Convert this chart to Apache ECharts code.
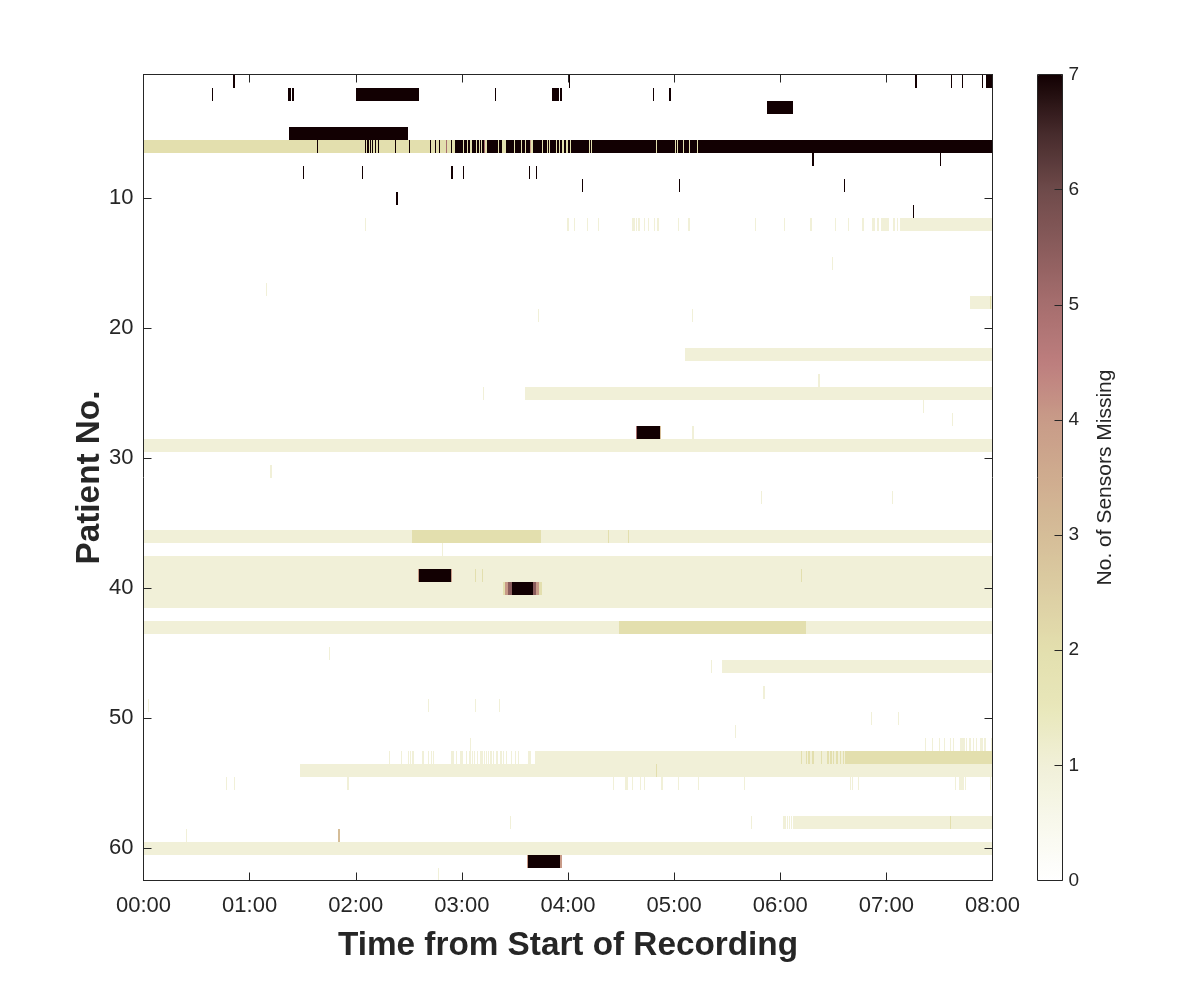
<!DOCTYPE html>
<html>
<head>
<meta charset="utf-8">
<script src="https://cdn.jsdelivr.net/npm/echarts@6/dist/echarts.min.js"></script>
<style>html,body{margin:0;padding:0;background:#fff}#c{width:1200px;height:990px}</style>
</head>
<body>
<div id="c"></div>
<script>
// Each entry: [patient number, start minute, end minute]
var oneMissing = [
  [12,125.4,126],[12,239.7,240.3],[12,243.2,243.7],[12,250.5,251.1],[12,256.7,257.3],[12,276,277.6],[12,278.2,278.8],[12,279.3,280.5],[12,282.7,283.3],[12,285,285.6],[12,288.4,289],[12,290.6,291.2],[12,302,302.5],[12,307.6,308.7],[12,345.5,346],[12,361.9,362.5],[12,377.1,377.7],[12,390.7,391.3],[12,398.1,398.6],[12,406.5,407.1],[12,411.6,413.3],[12,414.5,415.6],[12,416.7,421.3],[12,423.5,424.6],[12,425.8,426.4],[12,427.5,480],
  [15,389.5,390.1],[17,69.5,70.1],[18,467,480],[19,223.1,223.7],[19,310.3,310.9],[22,305.9,480],[24,381.6,382.2],[25,192,192.6],[25,215.9,480],[26,440.9,441.5],[27,457.3,457.9],[28,309.9,311],[29,0,480],[31,71.8,72.4],[33,349.3,349.9],[33,423.4,424],
  [36,0,480],[37,169,169.6],[38,0,480],[39,0,480],[40,0,480],[41,0,480],[43,0,480],[45,105,105.6],[46,321.1,321.6],[46,326.8,480],[48,350.5,351.1],
  [49,2.6,3.2],[49,160.9,161.5],[49,187.5,188.1],[49,201.1,201.7],[50,411.5,412.1],[50,426.8,427.4],[51,334.6,335.2],[52,184.7,185.3],
  [52,441.8,442.4],[52,445.8,446.4],[52,449.5,450.1],[52,452.8,453.4],[52,455.7,456.3],[52,457.9,458.5],[52,461.4,463.1],[52,463.6,464.2],[52,464.8,465.3],[52,466.5,467.6],[52,468.7,469.3],[52,470.4,471],[52,472.7,474.4],[52,475,476.1],[52,479,480],
  [53,139,139.6],[53,145.8,146.3],[53,149.7,150.3],[53,150.9,151.4],[53,152,153.1],[53,157.7,158.8],[53,161,161.6],[53,162.7,163.3],[53,163.9,164.4],[53,174,175.7],[53,176.9,177.4],[53,179.2,180.8],[53,182.5,183.1],[53,183.8,184.2],[53,184.8,185.3],[53,186,186.5],[53,187.1,187.6],[53,188.7,189.2],[53,190.4,192.1],[53,192.7,193.3],[53,193.9,194.4],[53,195,195.5],[53,196.1,197.2],[53,197.8,198.3],[53,199.5,200.6],[53,201.8,202.9],[53,203.4,204],[53,205.2,205.7],[53,207.5,208],[53,210.2,210.8],[53,211.9,212.4],[53,217.6,219.3],[53,221.2,480],
  [54,88.7,480],
  [55,46.8,47.4],[55,51.4,51.9],[55,115.2,116.4],[55,265.2,265.8],[55,272,274.2],[55,276,276.5],[55,280.5,281],[55,282.7,283.3],[55,292.3,293.5],[55,302,302.5],[55,313.3,313.8],[55,339.3,339.8],[55,399.2,399.8],[55,400.3,400.9],[55,403.7,404.3],[55,458.6,459.1],[55,460.8,463.7],[55,464.2,464.8],[55,478.4,479],
  [58,207.2,207.7],[58,343.2,343.8],[58,361.3,363],[58,363.6,364.1],[58,364.7,365.3],[58,365.8,366.4],[58,367,480],[59,24.2,24.8],[60,0,480],[62,166.6,167.2]
];
var twoMissing = [
  [6,0,480],[18,478.5,479],[36,152,224.9],[36,262.6,263.1],[36,273.7,274.2],[39,187.2,187.7],[39,191.2,191.7],[39,372,372.5],[40,203,204.4],[40,223.6,225.5],[43,268.6,374.3],
  [53,371.5,372.5],[53,374.3,374.9],[53,375.9,376.6],[53,377.7,378.8],[53,382.8,383.4],[53,386.2,387.3],[53,387.9,389],[53,389.6,390.3],[53,391.3,392.4],[53,393.5,394.1],[53,395.2,395.8],[53,396.4,480],
  [54,289.5,290],[58,455.7,456.3]
];
var threeMissing = [[59,110.2,111.3],[28,291.8,292.3]];
var fourMissing = [[6,218.7,219.3],[39,155.3,155.8],[39,173.9,174.6],[40,204.4,206.1],[40,221.7,223.6],[61,217,217.6],[61,235.3,236.4]];
var fiveMissing = [[6,171.3,171.8],[6,192.6,193.2],[28,278.4,279.1]];
var fiveHalfMissing = [[40,206.1,208.6],[40,220,221.7]];
var sevenMissing = [
  [1,50.8,51.9],[1,240.5,241.3],[1,436,437.1],[1,456.3,456.9],[1,462.5,463.6],[1,473.8,474.4],[1,476.1,480],
  [2,38.9,39.5],[2,81.9,83.4],[2,83.8,85.3],[2,120.3,155.8],[2,198.9,199.5],[2,231.1,234.7],[2,235.3,236.8],[2,287.8,288.4],[2,296.9,298],
  [3,352.3,367],[5,82.5,149.7],
  [6,98.2,98.7],[6,125,125.8],[6,126.3,127.3],[6,128.3,128.9],[6,129.4,130],[6,130.7,131.5],[6,132.8,133.4],[6,142.4,142.9],[6,150.3,150.9],[6,162.2,162.7],[6,164.8,165.4],[6,167.3,167.8],[6,174,174.6],[6,176.3,178.2],[6,178.6,180.9],[6,181.4,183.1],[6,183.7,184.8],[6,185.9,188.2],[6,188.7,189.9],[6,190.4,191],[6,191.5,192.6],[6,194.4,200.6],[6,201.2,202.9],[6,205.2,209.7],[6,210.2,213.6],[6,214.2,215.9],[6,216.5,218.7],[6,220.4,225.5],[6,226,228.3],[6,228.9,229.5],[6,230,233.4],[6,234,235.1],[6,235.7,236.8],[6,237.9,239],[6,239.8,240.9],[6,241.5,251.8],[6,252.4,253.1],[6,253.7,289.5],[6,290.1,300.4],[6,301,301.8],[6,302.3,305],[6,305.5,308.4],[6,309,312.7],[6,313.3,480],
  [7,377.7,378.8],[7,450.1,450.7],
  [8,90.4,91],[8,123.7,124.3],[8,174,175.1],[8,180.8,181.4],[8,218.2,218.7],[8,222.1,222.7],
  [9,247.7,248.2],[9,302.5,303.1],[9,395.8,396.4],[10,142.9,144],[11,434.8,435.4],
  [28,279.1,291.8],[39,155.8,173.9],[40,208.6,220],[61,217.6,235.3]
];
var patientTicks = [10,20,30,40,50,60];
var hourTicks = ['00:00','01:00','02:00','03:00','04:00','05:00','06:00','07:00','08:00'];
var colorbarColors = ['#ffffff','#f8f8ec','#f1f0d8','#e8e7ba','#e3dfae','#dccea3','#d5bd98','#cfac8f','#c89b88','#bd7e7e','#a66e6e','#8a5c5c','#6e4a4a','#452a2b','#120002'];

var segments = [];
function addLevel(list, level) {
  list.forEach(function (s) { segments.push([s[1], s[2], s[0], level]); });
}
addLevel(oneMissing, 1);
addLevel(twoMissing, 2);
addLevel(threeMissing, 3);
addLevel(fourMissing, 4);
addLevel(fiveMissing, 5);
addLevel(fiveHalfMissing, 5.5);
addLevel(sevenMissing, 7);

var ink = '#262626';
var fontFamily = '"Liberation Sans", Arial, sans-serif';
var tickLine = { color: ink, width: 1 };
var frameLine = { show: true, onZero: false, lineStyle: tickLine };

var chart = echarts.init(document.getElementById('c'), null, { renderer: 'canvas' });
chart.setOption({
  animation: false,
  backgroundColor: '#fff',
  grid: [
    { left: 143.5, top: 74.5, width: 849, height: 806, containLabel: false },
    { left: 1037.5, top: 74.5, width: 25, height: 806, show: true, backgroundColor: 'transparent', borderColor: ink, borderWidth: 1, z: 6 }
  ],
  visualMap: {
    type: 'continuous', seriesIndex: 0, dimension: 3, min: 0, max: 7,
    left: 1037.5, top: 74.5, itemWidth: 25, itemHeight: 806, padding: 0, text: null,
    calculable: false, hoverLink: false, realtime: false,
    inRange: { color: colorbarColors }
  },
  xAxis: [
    { type: 'value', gridIndex: 0, position: 'bottom', min: 0, max: 480, interval: 60, z: 5,
      name: 'Time from Start of Recording', nameLocation: 'middle', nameGap: 49, nameMoveOverlap: false,
      nameTextStyle: { fontFamily: fontFamily, fontSize: 33.3, fontWeight: 'bold', color: ink },
      splitLine: { show: false },
      axisLine: frameLine,
      axisTick: { show: true, inside: true, length: 8, lineStyle: tickLine },
      axisLabel: { show: true, margin: 14, fontFamily: fontFamily, fontSize: 22, color: ink, showMinLabel: true, showMaxLabel: true, hideOverlap: false,
        formatter: function (v) { return hourTicks[v / 60]; } } },
    { type: 'value', gridIndex: 0, position: 'top', min: 0, max: 480, interval: 60, z: 5,
      splitLine: { show: false },
      axisLine: frameLine,
      axisTick: { show: true, inside: true, length: 8, lineStyle: tickLine },
      axisLabel: { show: false } },
    { type: 'value', gridIndex: 1, min: 0, max: 1, show: false }
  ],
  yAxis: [
    { type: 'value', gridIndex: 0, position: 'left', inverse: true, min: 0.5, max: 62.5, z: 5,
      name: 'Patient No.', nameLocation: 'middle', nameGap: 37, nameRotate: 90, nameMoveOverlap: false,
      nameTextStyle: { fontFamily: fontFamily, fontSize: 33.3, fontWeight: 'bold', color: ink },
      splitLine: { show: false },
      axisLine: frameLine,
      axisTick: { show: true, inside: true, length: 8, lineStyle: tickLine, customValues: patientTicks },
      axisLabel: { show: true, margin: 10, padding: [5, 0, 0, 0], fontFamily: fontFamily, fontSize: 22, color: ink, customValues: patientTicks } },
    { type: 'value', gridIndex: 0, position: 'right', inverse: true, min: 0.5, max: 62.5, z: 5,
      splitLine: { show: false },
      axisLine: frameLine,
      axisTick: { show: true, inside: true, length: 8, lineStyle: tickLine, customValues: patientTicks },
      axisLabel: { show: false } },
    { type: 'value', gridIndex: 1, position: 'right', min: 0, max: 7, interval: 1, z: 7,
      name: 'No. of Sensors Missing', nameLocation: 'middle', nameGap: 32.5, nameRotate: 90, nameMoveOverlap: false,
      nameTextStyle: { fontFamily: fontFamily, fontSize: 21, color: ink },
      splitLine: { show: false },
      axisLine: { show: false, onZero: false },
      axisTick: { show: true, inside: true, length: 8, lineStyle: tickLine },
      axisLabel: { show: true, margin: 6, padding: [5, 0, 0, 0], fontFamily: fontFamily, fontSize: 19, color: ink } }
  ],
  series: [{
    type: 'custom',
    xAxisIndex: 0,
    yAxisIndex: 0,
    z: 2,
    silent: true,
    encode: { x: [0, 1], y: 2 },
    data: segments,
    renderItem: function (params, api) {
      var a = api.coord([api.value(0), api.value(2) - 0.5]);
      var b = api.coord([api.value(1), api.value(2) + 0.5]);
      var x0 = Math.round(a[0]);
      var x1 = Math.max(Math.round(b[0]), x0 + 1);
      var y0 = Math.round(a[1]);
      var y1 = Math.round(b[1]);
      return {
        type: 'rect',
        shape: { x: x0, y: y0, width: x1 - x0, height: y1 - y0 },
        style: { fill: api.visual('color') }
      };
    }
  }]
});
</script>
</body>
</html>
